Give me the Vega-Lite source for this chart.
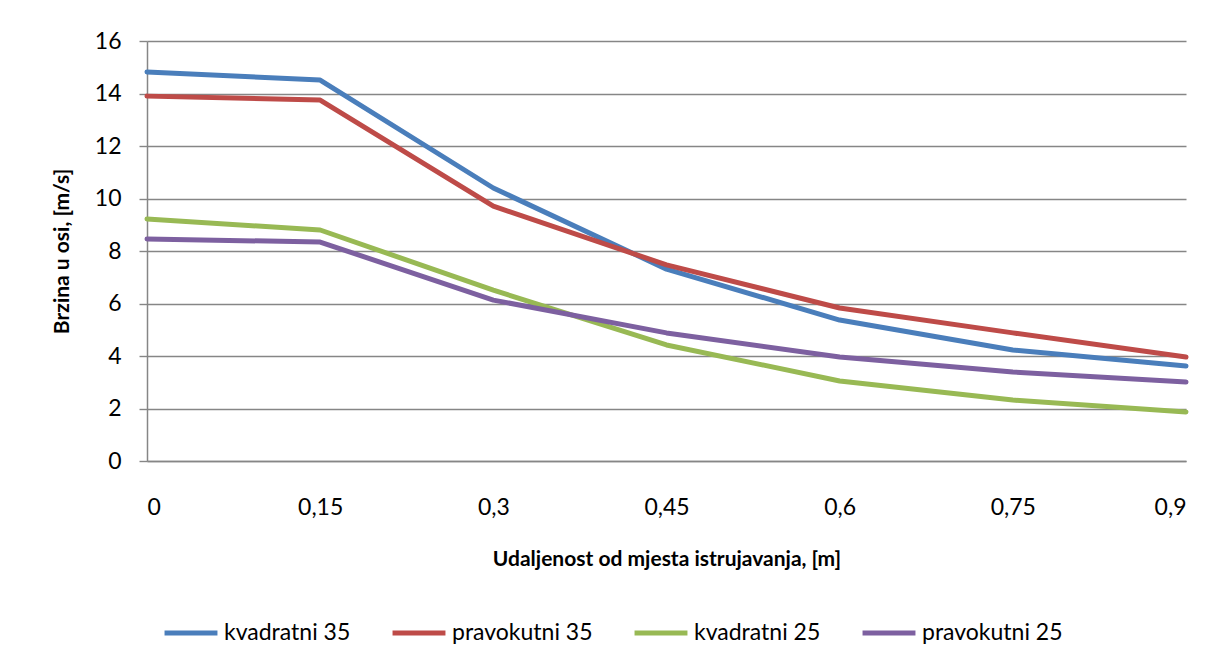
{
  "$schema": "https://vega.github.io/schema/vega-lite/v6.json",
  "width": 1039,
  "height": 420,
  "autosize": {"type": "none"},
  "padding": {"left": 147, "top": 41, "right": 39, "bottom": 201},
  "background": "white",
  "config": {
    "view": {"stroke": null},
    "font": "Lato",
    "axis": {"labelFont": "Lato", "titleFont": "Lato", "labelColor": "#000", "titleColor": "#000"}
  },
  "data": {
    "values": [
      {"x": 0, "y": 14.82, "s": "kvadratni 35"},
      {"x": 0.15, "y": 14.51, "s": "kvadratni 35"},
      {"x": 0.3, "y": 10.4, "s": "kvadratni 35"},
      {"x": 0.45, "y": 7.31, "s": "kvadratni 35"},
      {"x": 0.6, "y": 5.37, "s": "kvadratni 35"},
      {"x": 0.75, "y": 4.23, "s": "kvadratni 35"},
      {"x": 0.9, "y": 3.62, "s": "kvadratni 35"},
      {"x": 0, "y": 13.9, "s": "pravokutni 35"},
      {"x": 0.15, "y": 13.75, "s": "pravokutni 35"},
      {"x": 0.3, "y": 9.71, "s": "pravokutni 35"},
      {"x": 0.45, "y": 7.47, "s": "pravokutni 35"},
      {"x": 0.6, "y": 5.83, "s": "pravokutni 35"},
      {"x": 0.75, "y": 4.88, "s": "pravokutni 35"},
      {"x": 0.9, "y": 3.96, "s": "pravokutni 35"},
      {"x": 0, "y": 9.22, "s": "kvadratni 25"},
      {"x": 0.15, "y": 8.8, "s": "kvadratni 25"},
      {"x": 0.3, "y": 6.51, "s": "kvadratni 25"},
      {"x": 0.45, "y": 4.42, "s": "kvadratni 25"},
      {"x": 0.6, "y": 3.05, "s": "kvadratni 25"},
      {"x": 0.75, "y": 2.32, "s": "kvadratni 25"},
      {"x": 0.9, "y": 1.87, "s": "kvadratni 25"},
      {"x": 0, "y": 8.46, "s": "pravokutni 25"},
      {"x": 0.15, "y": 8.34, "s": "pravokutni 25"},
      {"x": 0.3, "y": 6.13, "s": "pravokutni 25"},
      {"x": 0.45, "y": 4.88, "s": "pravokutni 25"},
      {"x": 0.6, "y": 3.96, "s": "pravokutni 25"},
      {"x": 0.75, "y": 3.39, "s": "pravokutni 25"},
      {"x": 0.9, "y": 3.01, "s": "pravokutni 25"}
    ]
  },
  "mark": {"type": "line", "strokeWidth": 5, "strokeCap": "round", "strokeJoin": "round"},
  "encoding": {
    "x": {
      "field": "x", "type": "quantitative",
      "scale": {"domain": [0, 0.9], "nice": false, "zero": false},
      "axis": {
        "values": [0, 0.15, 0.3, 0.45, 0.6, 0.75, 0.9],
        "labelExpr": "replace(format(datum.value, '~g'), '.', ',')",
        "grid": false, "ticks": false,
        "domainColor": "#868686", "domainWidth": 1.5,
        "labelFontSize": 23, "labelPadding": 35,
        "title": "Udaljenost od mjesta istrujavanja,  [m]",
        "titleFontSize": 21, "titleFontWeight": "bold", "titlePadding": 29
      }
    },
    "y": {
      "field": "y", "type": "quantitative",
      "scale": {"domain": [0, 16], "nice": false},
      "axis": {
        "values": [0, 2, 4, 6, 8, 10, 12, 14, 16],
        "grid": true, "gridColor": "#868686", "gridWidth": 1.4,
        "domainColor": "#868686", "domainWidth": 1.5,
        "tickColor": "#868686", "tickWidth": 1.4, "tickSize": 8,
        "labelFontSize": 23, "labelPadding": 18,
        "title": "Brzina u osi, [m/s]",
        "titleFontSize": 21, "titleFontWeight": "bold", "titlePadding": 22
      }
    },
    "color": {
      "field": "s", "type": "nominal",
      "scale": {
        "domain": ["kvadratni 35", "pravokutni 35", "kvadratni 25", "pravokutni 25"],
        "range": ["#4a7ebb", "#be4b48", "#98b954", "#7d60a0"]
      },
      "legend": {
        "title": null,
        "orient": "none",
        "direction": "horizontal",
        "legendX": 15,
        "legendY": 563,
        "symbolType": "stroke",
        "symbolSize": 2800,
        "symbolStrokeWidth": 5,
        "labelFontSize": 23,
        "labelFont": "Lato",
        "labelColor": "#000",
        "labelOffset": 4,
        "columnPadding": 31
      }
    }
  }
}
